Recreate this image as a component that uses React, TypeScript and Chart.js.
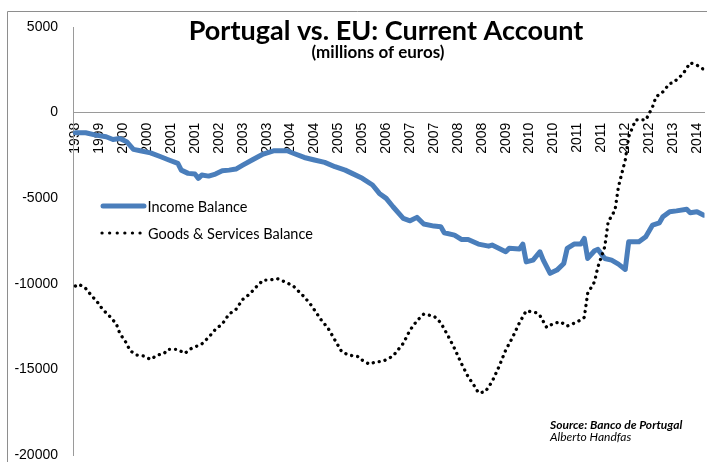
import React, { useEffect, useRef } from 'react';
import { Chart, registerables } from 'chart.js';

Chart.register(...registerables);

// ---------- data ----------
const titleText = 'Portugal vs. EU: Current Account';
const subtitleText = '(millions of euros)';
const sourceText = 'Source: Banco de Portugal';
const authorText = 'Alberto Handfas';

const seriesNames = ['Income Balance', 'Goods & Services Balance'];

// category tick labels (one every 7 months, starting Dec 1998)
const tickLabels = [
  '1998', '1999', '2000', '2000', '2001', '2001', '2002', '2003', '2003', '2004',
  '2004', '2005', '2005', '2006', '2007', '2007', '2008', '2008', '2009', '2010',
  '2010', '2011', '2011', '2012', '2012', '2013', '2014',
];
const monthsPerTick = 7;

// months since Dec 1998
const incomeMonths = [
  0, 3, 6, 9, 11, 13, 15, 17, 19, 22, 25, 27, 30, 31, 33, 35, 36, 37, 39, 41,
  43, 45, 47, 49, 52, 55, 58, 62, 64, 67, 70, 73, 76, 79, 81, 84, 87, 89, 91, 93,
  96, 98, 100, 102, 105, 107, 108, 111, 113, 115, 118, 121, 122, 126, 127, 130, 131, 132, 134, 136,
  137, 139, 141, 143, 144, 146, 148, 149, 150, 152, 153, 155, 157, 159, 161, 162, 165, 167, 169, 171,
  172, 174, 176, 179, 180, 182, 184,
];
const incomeValues = [
  -1180, -1180, -1315, -1410, -1570, -1510, -1700, -2150, -2230, -2350, -2580, -2740, -2970, -3360, -3550, -3590, -3840, -3650, -3710, -3590,
  -3400, -3360, -3300, -3070, -2740, -2420, -2230, -2230, -2390, -2620, -2770, -2910, -3160, -3360, -3550, -3840, -4230, -4720, -5010, -5500,
  -6180, -6320, -6120, -6510, -6630, -6670, -7020, -7160, -7410, -7410, -7680, -7800, -7740, -8130, -7930, -7970, -7680, -8720, -8620, -8130,
  -8620, -9390, -9200, -8810, -7930, -7680, -7680, -7350, -8520, -8070, -7990, -8520, -8620, -8850, -9160, -7550, -7550, -7250, -6570, -6440,
  -6090, -5790, -5740, -5650, -5850, -5790, -5990,
];

const goodsMonths = [
  0, 1, 3, 5, 6, 8, 10, 12, 13, 15, 16, 18, 20, 22, 24, 26, 27, 30, 32, 34,
  37, 39, 41, 43, 45, 47, 49, 51, 53, 55, 57, 59, 62, 64, 67, 69, 72, 74, 76, 78,
  80, 83, 84, 86, 88, 90, 93, 96, 98, 100, 102, 105, 107, 109, 111, 113, 115, 117, 118, 120,
  122, 124, 126, 128, 130, 132, 135, 136, 138, 140, 142, 144, 147, 149, 150, 152, 153, 155, 156, 158,
  159, 161, 162, 164, 165, 167, 169, 170, 172, 174, 175, 177, 178, 180, 182, 184,
];
const goodsValues = [
  -10130, -10020, -10270, -10760, -10950, -11500, -11890, -12350, -12900, -13480, -13910, -14160, -14220, -14420, -14160, -14070, -13830, -13830, -14070, -13770,
  -13520, -13130, -12660, -12350, -11770, -11500, -10910, -10600, -10170, -9780, -9780, -9690, -9940, -10170, -10760, -11240, -12120, -12600, -13290, -13970,
  -14160, -14260, -14460, -14690, -14560, -14530, -14220, -13480, -12700, -12160, -11770, -11890, -12280, -13000, -13770, -14650, -15430, -16020, -16370, -16310,
  -15720, -14850, -13870, -13130, -12280, -11580, -11690, -11850, -12550, -12310, -12220, -12470, -12220, -11960, -10560, -9880, -9010, -7840, -6380, -5700,
  -4330, -2770, -1410, -440, -400, -440, 340, 920, 1210, 1700, 1740, 2090, 2290, 2910, 2770, 2520,
];

// ---------- styles ----------
const incomeColor = '#4A7EBB';
const goodsColor = '#000000';
const axisColor = '#9a9a9a';
const frameColor = '#8e8e8e';
const axisFont = 'Liberation Sans';
const textFont = 'Lato';

const decorPlugin = {
  id: 'decor',
  beforeDraw(chart: any) {
    const ctx = chart.ctx;
    ctx.save();
    ctx.strokeStyle = frameColor;
    ctx.lineWidth = 1;
    ctx.beginPath();
    ctx.moveTo(7.5, 470);
    ctx.lineTo(7.5, 11.5);
    ctx.lineTo(720, 11.5);
    ctx.stroke();
    ctx.restore();
  },
  afterDraw(chart: any) {
    const ctx = chart.ctx;
    ctx.save();
    ctx.fillStyle = '#000';
    ctx.textAlign = 'center';
    ctx.textBaseline = 'alphabetic';
    ctx.font = `bold 27px ${textFont}`;
    ctx.fillText(titleText, 386, 40);
    ctx.font = `bold 17px ${textFont}`;
    ctx.fillText(subtitleText, 378, 57.5);

    // legend
    ctx.lineCap = 'round';
    ctx.strokeStyle = incomeColor;
    ctx.lineWidth = 5;
    ctx.beginPath();
    ctx.moveTo(103, 206);
    ctx.lineTo(144, 206);
    ctx.stroke();
    ctx.strokeStyle = goodsColor;
    ctx.lineWidth = 3.2;
    ctx.setLineDash([0.1, 7.5]);
    ctx.beginPath();
    ctx.moveTo(102, 233);
    ctx.lineTo(145, 233);
    ctx.stroke();
    ctx.setLineDash([]);
    ctx.textAlign = 'left';
    ctx.textBaseline = 'middle';
    ctx.font = `14.5px ${textFont}`;
    ctx.fillText(seriesNames[0], 147.5, 207);
    ctx.fillText(seriesNames[1], 148, 234);

    // source
    ctx.textBaseline = 'alphabetic';
    ctx.font = `italic bold 12px ${textFont}`;
    ctx.fillText(sourceText, 550, 429);
    ctx.font = `italic 12px ${textFont}`;
    ctx.fillText(authorText, 550, 440.5);
    ctx.restore();
  },
};

export default function App() {
  const canvasRef = useRef<HTMLCanvasElement | null>(null);

  useEffect(() => {
    const canvas = canvasRef.current;
    if (!canvas) return;
    const chart = new Chart(canvas, {
      type: 'line',
      data: {
        datasets: [
          {
            label: seriesNames[1],
            data: goodsMonths.map((m, i) => ({ x: m, y: goodsValues[i] })),
            borderColor: goodsColor,
            borderWidth: 3.3,
            borderDash: [0.1, 6],
            borderCapStyle: 'round',
            pointRadius: 0,
            tension: 0,
            fill: false,
            order: 0,
          },
          {
            label: seriesNames[0],
            data: incomeMonths.map((m, i) => ({ x: m, y: incomeValues[i] })),
            borderColor: incomeColor,
            borderWidth: 5,
            borderCapStyle: 'round',
            borderJoinStyle: 'round',
            pointRadius: 0,
            tension: 0,
            fill: false,
            order: 1,
          },
        ],
      },
      options: {
        animation: false,
        responsive: false,
        events: [],
        layout: { padding: { top: 27, bottom: 7, left: 0, right: 0 } },
        plugins: {
          legend: { display: false },
          title: { display: false },
          tooltip: { enabled: false },
        },
        scales: {
          x: {
            type: 'linear',
            position: { y: 0 } as any,
            min: -0.7,
            max: 184.2,
            grid: { display: false, drawTicks: false },
            border: { display: true, color: axisColor, width: 1 },
            afterBuildTicks: (scale: any) => {
              scale.ticks = tickLabels.map((_, i) => ({ value: i * monthsPerTick }));
            },
            afterFit: (scale: any) => {
              scale.height = 0;
              scale.paddingLeft = 0;
              scale.paddingRight = 0;
              scale.paddingTop = 0;
              scale.paddingBottom = 0;
            },
            ticks: {
              autoSkip: false,
              minRotation: 90,
              maxRotation: 90,
              padding: 10,
              color: '#000',
              font: { family: axisFont, size: 14 },
              callback: (v: any) => tickLabels[Math.round(Number(v) / monthsPerTick)] ?? '',
            },
          },
          y: {
            type: 'linear',
            min: -20000,
            max: 5000,
            grid: { display: false, drawTicks: false },
            border: { display: true, color: axisColor, width: 1 },
            afterFit: (scale: any) => {
              scale.width = 73;
              scale.paddingTop = 7;
              scale.paddingBottom = 7;
            },
            ticks: {
              stepSize: 5000,
              padding: 15,
              color: '#000',
              font: { family: axisFont, size: 14, lineHeight: 1 },
              callback: (v: any) => String(v),
            },
          },
        },
      },
      plugins: [decorPlugin],
    });
    if ((document as any).fonts) {
      Promise.all([
        (document as any).fonts.load(`bold 27px ${textFont}`),
        (document as any).fonts.load(`14px ${textFont}`),
        (document as any).fonts.load(`italic bold 12px ${textFont}`),
        (document as any).fonts.load(`italic 12px ${textFont}`),
        (document as any).fonts.load(`14px ${axisFont}`),
      ]).then(() => chart.update('none')).catch(() => {});
    }
    return () => {
      chart.destroy();
    };
  }, []);

  return (
    <div style={{ position: 'fixed', left: 0, top: 0, width: 707, height: 462, background: '#fff' }}>
      <canvas ref={canvasRef} width={707} height={462} style={{ display: 'block', width: 707, height: 462 }} />
    </div>
  );
}
